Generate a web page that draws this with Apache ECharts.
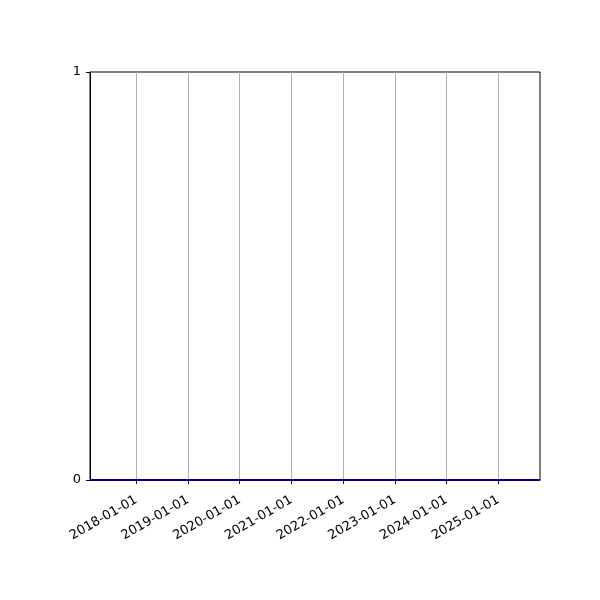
<!DOCTYPE html>
<html>
<head>
<meta charset="utf-8">
<script src="https://cdn.jsdelivr.net/npm/echarts@6/dist/echarts.min.js"></script>
<style>html,body{margin:0;padding:0;background:#fff;}#c{width:600px;height:600px;}</style>
</head>
<body>
<div id="c"></div>
<script>
const dates = ['2017-02-08','2018-01-01','2019-01-01','2020-01-01','2021-01-01','2022-01-01','2023-01-01','2024-01-01','2025-01-01','2025-10-22'];
const values = [0,0,0,0,0,0,0,0,0,0];
const tickLabels = ['2018-01-01','2019-01-01','2020-01-01','2021-01-01','2022-01-01','2023-01-01','2024-01-01','2025-01-01'];
const xMin = '2017-02-08';
const xMax = '2025-10-22';

const ts = s => Date.parse(s + 'T00:00:00Z');
const tickTs = tickLabels.map(ts);
const chart = echarts.init(document.getElementById('c'), null, {renderer: 'canvas'});
const font = 'DejaVu Sans';
chart.setOption({
  animation: false,
  backgroundColor: '#fff',
  grid: {left: 90, right: 60, top: 72, bottom: 120, show: true, borderColor: '#000', borderWidth: 1, backgroundColor: 'transparent'},
  xAxis: {
    type: 'value',
    min: ts(xMin), max: ts(xMax),
    axisLine: {show: true, lineStyle: {color: '#000', width: 1}},
    axisTick: {show: true, customValues: tickTs, length: 4, lineStyle: {color: '#000'}},
    axisLabel: {
      customValues: tickTs, rotate: 30, color: '#000', fontFamily: font, fontSize: 13, margin: 19,
      formatter: v => { const d = new Date(v); return d.toISOString().slice(0,10); }
    },
    splitLine: {show: false}
  },
  yAxis: {
    type: 'value', min: 0, max: 1, interval: 1,
    axisLine: {show: true, lineStyle: {color: '#000', width: 1}},
    axisTick: {show: true, length: 4, lineStyle: {color: '#000'}},
    axisLabel: {color: '#000', fontFamily: font, fontSize: 13, margin: 9},
    splitLine: {show: false}
  },
  series: [{
    type: 'line',
    data: dates.map((d, i) => [ts(d), values[i]]),
    showSymbol: false,
    lineStyle: {color: '#00008b', width: 2},
    z: 5,
    markLine: {
      silent: true, symbol: 'none', label: {show: false},
      lineStyle: {color: '#b0b0b0', width: 1, type: 'solid'},
      data: tickTs.map(t => ({xAxis: t}))
    }
  }]
});
</script>
</body>
</html>
